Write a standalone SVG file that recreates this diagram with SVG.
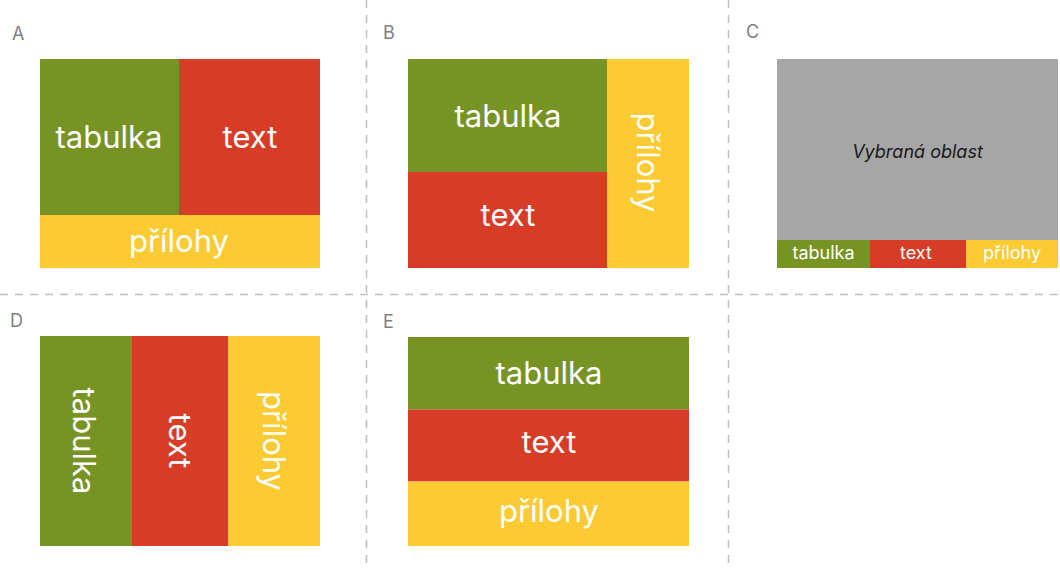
<svg xmlns="http://www.w3.org/2000/svg" width="1060" height="568" viewBox="0 0 1060 568">
<style>
.g{fill:#779324}.r{fill:#d73c27}.y{fill:#fcca33}.gr{fill:#a6a6a6}
text{font-family:Inter,"Noto Sans","Liberation Sans",sans-serif}
.t{fill:#ffffff;font-size:31px;text-anchor:middle}
.ts{fill:#ffffff;font-size:18px;text-anchor:middle}
.lbl{fill:#808080;font-size:18px}
.sel{fill:#1a1a1a;font-size:18px;font-style:italic;text-anchor:middle}
.d{stroke:#bfbfbf;stroke-width:1.5;stroke-dasharray:8 7;fill:none}
</style>
<rect width="1060" height="568" fill="#ffffff"/>
<g id="connectors">
<line class="d" x1="366.5" y1="0" x2="366.5" y2="568"/>
<line class="d" x1="728.5" y1="0" x2="728.5" y2="568"/>
<line class="d" x1="0" y1="294.5" x2="1060" y2="294.5"/>
</g>
<g id="panelA">
<text class="lbl" x="12" y="39.5">A</text>
<rect class="g" x="40" y="59" width="139" height="156"/>
<rect class="r" x="179" y="59" width="141" height="156"/>
<rect class="y" x="40" y="215" width="280" height="53"/>
<text class="t" x="109" y="147.5">tabulka</text>
<text class="t" x="250" y="147.5">text</text>
<text class="t" x="179" y="251.5">přílohy</text>
</g>
<g id="panelB">
<text class="lbl" x="383" y="38.5">B</text>
<rect class="g" x="408" y="59" width="199" height="113"/>
<rect class="r" x="408" y="172" width="199" height="96"/>
<rect class="y" x="607" y="59" width="82" height="209"/>
<text class="t" x="508" y="127">tabulka</text>
<text class="t" x="508" y="226">text</text>
<text class="t" transform="translate(636.5,162.5) rotate(90)" x="0" y="0">přílohy</text>
</g>
<g id="panelC">
<text class="lbl" x="746" y="37.5">C</text>
<rect class="gr" x="777" y="59" width="281" height="181"/>
<rect class="g" x="777" y="240" width="93" height="28"/>
<rect class="r" x="870" y="240" width="96" height="28"/>
<rect class="y" x="966" y="240" width="92" height="28"/>
<text class="sel" x="917.5" y="158">Vybraná oblast</text>
<text class="ts" x="823.5" y="259">tabulka</text>
<text class="ts" x="916" y="259">text</text>
<text class="ts" x="1012" y="259">přílohy</text>
</g>
<g id="panelD">
<text class="lbl" x="10" y="326.5">D</text>
<rect class="g" x="40" y="336" width="92" height="210"/>
<rect class="r" x="132" y="336" width="96" height="210"/>
<rect class="y" x="228" y="336" width="92" height="210"/>
<text class="t" transform="translate(73,441) rotate(90)" x="0" y="0">tabulka</text>
<text class="t" transform="translate(168.5,441) rotate(90)" x="0" y="0">text</text>
<text class="t" transform="translate(263,441) rotate(90)" x="0" y="0">přílohy</text>
</g>
<g id="panelE">
<text class="lbl" x="383" y="328">E</text>
<rect class="g" x="408" y="337" width="281" height="72.5"/>
<rect class="r" x="408" y="409.5" width="281" height="72"/>
<rect class="y" x="408" y="481.5" width="281" height="64.5"/>
<text class="t" x="549" y="384">tabulka</text>
<text class="t" x="549" y="452.5">text</text>
<text class="t" x="549" y="521.5">přílohy</text>
</g>
</svg>
